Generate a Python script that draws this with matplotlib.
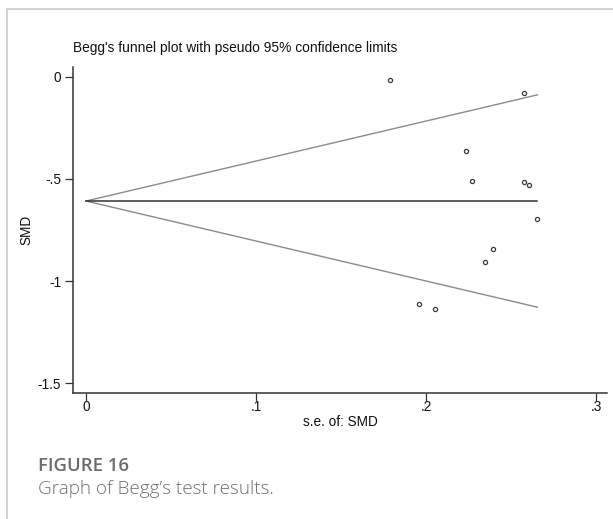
import numpy as np
import matplotlib
matplotlib.use("Agg")
import matplotlib.pyplot as plt
from matplotlib.lines import Line2D

# ---- data ----
se = [0.179, 0.2575, 0.2233, 0.2271, 0.2575, 0.2604, 0.2655, 0.2392, 0.2347, 0.1959, 0.2055]
smd = [-0.013, -0.080, -0.361, -0.510, -0.515, -0.528, -0.696, -0.843, -0.908, -1.111, -1.136]
pooled = -0.608
z95 = 1.96
xticks = [0, 0.1, 0.2, 0.3]
xticklabels = ["0", ".1", ".2", ".3"]
yticks = [0, -0.5, -1, -1.5]
yticklabels = ["0", "-.5", "-1", "-1.5"]

W, H = 613, 519
fig = plt.figure(figsize=(W / 100, H / 100), dpi=100)
fig.patch.set_facecolor("white")

def px(x, y):
    return x / W, 1 - y / H

# page border (light gray)
fig.add_artist(Line2D([7 / W, 7 / W], [0, 1 - 9 / H], transform=fig.transFigure,
                      color="#cfcfcf", lw=1.3))
fig.add_artist(Line2D([7 / W, 1], [1 - 9 / H, 1 - 9 / H], transform=fig.transFigure,
                      color="#cfcfcf", lw=1.3))

L, R, T, B = 73, 607, 67, 393
ax = fig.add_axes([L / W, 1 - B / H, (R - L) / W, (B - T) / H])

cfont = "Liberation Sans"
smax = max(se)
xs = np.array([0, smax])
ax.plot(xs, pooled + z95 * xs, color="#8a8a8a", lw=1.0)
ax.plot(xs, pooled - z95 * xs, color="#8a8a8a", lw=1.0)
ax.plot(xs, [pooled, pooled], color="#333333", lw=1.1)
ax.plot(se, smd, linestyle="none", marker="o", ms=3.0, mfc="none", mec="#3a3a3a", mew=0.9)

ax.set_xlim(-0.00765, (R - 86) / 1700)
ax.set_ylim(-1.549, 0.049)
for s in ["top", "right"]:
    ax.spines[s].set_visible(False)
for s in ["left", "bottom"]:
    ax.spines[s].set_color("#333333")
    ax.spines[s].set_linewidth(1.1)

ax.set_xticks(xticks)
ax.set_xticklabels(xticklabels, fontfamily=cfont, fontsize=9.8)
ax.set_yticks(yticks)
ax.set_yticklabels(yticklabels, fontfamily=cfont, fontsize=9.8)
ax.tick_params(axis="both", direction="out", length=5.5, width=0.9, color="#333333",
               labelcolor="#111111")
ax.tick_params(axis="x", pad=-0.5)
ax.tick_params(axis="y", pad=3)

ax.set_xlabel("s.e. of: SMD", fontfamily=cfont, fontsize=9.8, color="#111111", labelpad=1)
ax.set_ylabel("SMD", fontfamily=cfont, fontsize=9.8, color="#111111", labelpad=3)

fig.text(*px(73, 48), "Begg's funnel plot with pseudo 95% confidence limits",
         fontfamily=cfont, fontsize=9.95, color="#111111", ha="left", va="center")

fig.text(*px(38, 466), "FIGURE 16", fontfamily="Open Sans", fontweight="semibold",
         fontsize=13.3, color="#6b6b6b", ha="left", va="center")
fig.text(*px(38, 489), "Graph of Begg\u2019s test results.", fontfamily="Open Sans",
         fontweight="light", fontsize=13.6, color="#6f6f6f", ha="left", va="center")

fig.savefig("out.png", dpi=100, facecolor="white")
